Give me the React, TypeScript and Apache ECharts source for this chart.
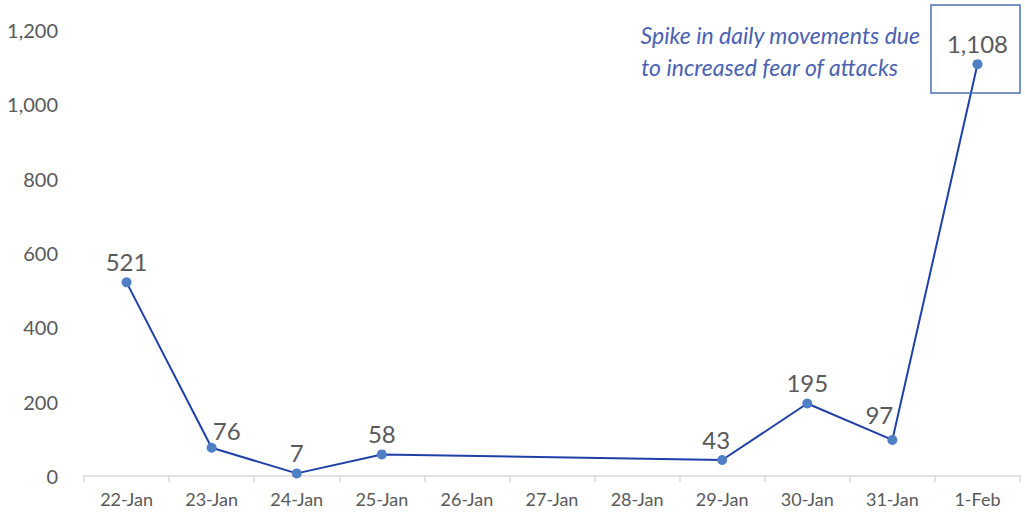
import React, { useEffect, useRef } from "react";
import * as echarts from "echarts";

const categories = ["22-Jan", "23-Jan", "24-Jan", "25-Jan", "26-Jan", "27-Jan", "28-Jan", "29-Jan", "30-Jan", "31-Jan", "1-Feb"];
const movements: (number | null)[] = [521, 76, 7, 58, null, null, null, 43, 195, 97, 1108];
const yTicks = { min: 0, max: 1200, interval: 200 };
const annotationLines = ["Spike in daily movements due", "to increased fear of attacks"];

const FONT = "Lato, 'Noto Sans', sans-serif";

// manual label nudges (style only), keyed by category index
const labelNudge: Record<number, [number, number]> = {
  1: [15, 4],
  7: [-6, 0],
  9: [-13, -4],
};

export default function App() {
  const ref = useRef<HTMLDivElement>(null);
  useEffect(() => {
    if (!ref.current) return;
    const chart = echarts.init(ref.current, undefined, { renderer: "svg" });
    const seriesData = movements.map((v, i) =>
      labelNudge[i] ? { value: v, label: { offset: labelNudge[i] } } : v
    );
    chart.setOption({
      animation: false,
      grid: { left: 84, right: 5, top: 30, bottom: 45 },
      xAxis: {
        type: "category",
        data: categories,
        boundaryGap: true,
        axisLine: { lineStyle: { color: "#d9d9d9", width: 1.5 } },
        axisTick: { show: true, length: 6, lineStyle: { color: "#d9d9d9", width: 1.5 } },
        axisLabel: { color: "#595959", fontSize: 18, fontFamily: FONT, margin: 14 },
      },
      yAxis: {
        type: "value",
        min: yTicks.min,
        max: yTicks.max,
        interval: yTicks.interval,
        splitLine: { show: false },
        axisLine: { show: false },
        axisTick: { show: false },
        axisLabel: {
          color: "#595959",
          fontSize: 20,
          fontFamily: FONT,
          margin: 26,
          formatter: (v: number) => v.toLocaleString("en-US"),
        },
      },
      series: [
        {
          type: "line",
          data: seriesData,
          connectNulls: true,
          symbol: "circle",
          symbolSize: 10,
          itemStyle: { color: "#4f7fc4" },
          lineStyle: { color: "#1f40a8", width: 2 },
          label: {
            show: true,
            position: "top",
            distance: 4,
            color: "#595959",
            fontSize: 24,
            fontFamily: FONT,
            formatter: (p: any) => (p.value == null ? "" : Number(p.value).toLocaleString("en-US")),
          },
        },
      ],
      graphic: [
        {
          type: "rect",
          shape: { x: 931, y: 5, width: 89, height: 88 },
          style: { fill: "none", stroke: "#4a6fb8", lineWidth: 1.5 },
          z: 10,
        },
        {
          type: "text",
          x: 920,
          y: 35,
          style: {
            text: annotationLines[0],
            fill: "#4a62b0",
            fontSize: 23,
            fontStyle: "italic",
            fontFamily: FONT,
            align: "right",
            verticalAlign: "middle",
          },
        },
        {
          type: "text",
          x: 898,
          y: 67,
          style: {
            text: annotationLines[1],
            fill: "#4a62b0",
            fontSize: 23,
            fontStyle: "italic",
            fontFamily: FONT,
            align: "right",
            verticalAlign: "middle",
          },
        },
      ],
    });
    return () => chart.dispose();
  }, []);
  return <div ref={ref} style={{ width: 1025, height: 521, position: "absolute", left: 0, top: 0 }} />;
}
